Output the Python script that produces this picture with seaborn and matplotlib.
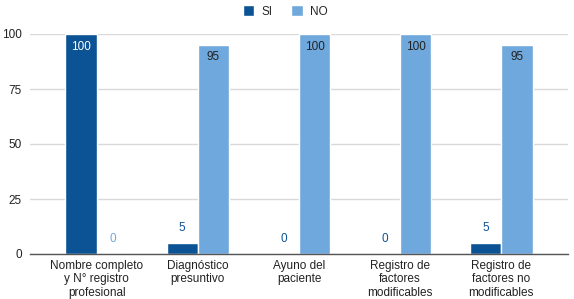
import matplotlib
matplotlib.use("Agg")
import matplotlib.pyplot as plt
import seaborn as sns
import pandas as pd
from matplotlib.patches import Patch

categories = ["Nombre completo\ny N° registro\nprofesional", "Diagnóstico\npresuntivo",
              "Ayuno del\npaciente", "Registro de\nfactores\nmodificables",
              "Registro de\nfactores no\nmodificables"]
si_values = [100, 5, 0, 0, 5]
no_values = [0, 95, 100, 100, 95]
series = ["SI", "NO"]
colors = {"SI": "#0b5394", "NO": "#6fa8dc"}
yticks = [0, 25, 50, 75, 100]

df = pd.DataFrame({
    "cat": categories * 2,
    "serie": ["SI"] * len(categories) + ["NO"] * len(categories),
    "val": si_values + no_values,
})

sns.set_theme(style="white")
plt.rcParams["font.family"] = ["Liberation Sans", "DejaVu Sans"]

fig = plt.figure(figsize=(5.74, 2.99), dpi=100)
ax = fig.add_axes([30 / 574, 45 / 299, 538 / 574, 220 / 299])
sns.barplot(data=df, x="cat", y="val", hue="serie", palette=colors,
            hue_order=series, order=categories, width=0.62, ax=ax,
            saturation=1, legend=False)

ax.set_xlim(-0.66, 4.66)
ax.set_ylim(0, 100)
ax.set_yticks(yticks)
ax.set_yticklabels([str(v) for v in yticks], fontsize=8.5, color="#222222")
ax.tick_params(axis="x", labelsize=8.5, colors="#222222", length=0, pad=4)
ax.tick_params(axis="y", length=0, pad=6)
ax.set_xlabel("")
ax.set_ylabel("")
ax.yaxis.grid(True, color="#d9d9d9", linewidth=1)
ax.set_axisbelow(True)
for s in ["top", "right", "left"]:
    ax.spines[s].set_visible(False)
ax.spines["bottom"].set_color("#555555")
ax.spines["bottom"].set_linewidth(1)

for cont, name in zip(ax.containers, series):
    for bar in cont:
        h = bar.get_height()
        xc = bar.get_x() + bar.get_width() / 2
        v = int(round(h))
        if v >= 50:
            col = "white" if name == "SI" else "#222222"
            ax.annotate(str(v), (xc, h), xytext=(0, -9), textcoords="offset points",
                        ha="center", va="center", fontsize=8.5, color=col)
        else:
            col = colors[name]
            ax.annotate(str(v), (xc, h), xytext=(0, 11), textcoords="offset points",
                        ha="center", va="center", fontsize=8.5, color=col)

handles = [Patch(facecolor=colors[s], label=s) for s in series]
fig.legend(handles=handles, loc="center", bbox_to_anchor=(0.497, 0.962), ncol=2,
           frameon=False, fontsize=8.5, handlelength=1.0, handleheight=1.0,
           columnspacing=1.6, handletextpad=0.6)

fig.savefig("out.png", dpi=100)
